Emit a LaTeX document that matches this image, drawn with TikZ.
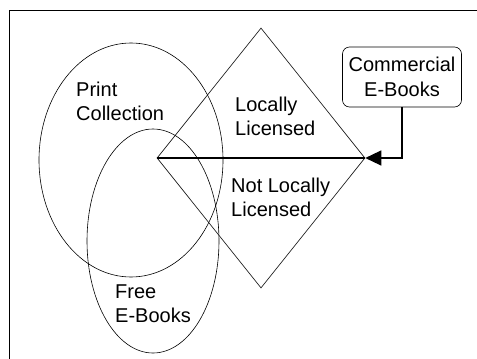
\documentclass[tikz,border=0pt]{standalone}
\usepackage{fontspec}
\setmainfont{Liberation Sans}
\usetikzlibrary{shapes.geometric,arrows.meta}
\begin{document}
\begin{tikzpicture}[
        x=1pt, y=-1pt,
        set/.style={ellipse, draw, line width=0.6pt, inner sep=0pt},
        area/.style={diamond, draw, line width=0.6pt, inner sep=0pt},
        source/.style={draw, line width=0.6pt, rounded corners=7pt, minimum width=119pt, minimum height=60pt, align=center, font=\fontsize{20}{25}\selectfont},
        label/.style={anchor=west, align=left, inner sep=0pt, font=\fontsize{20}{24}\selectfont},
        feed edge/.style={draw, line width=1.3pt, -{Triangle[length=16pt,width=15pt]}},
    ]
	\useasboundingbox (0,0) rectangle (477,359);
	\clip (0,0) rectangle (477,359);
	\draw[line width=0.8pt] (9,380) -- (9,10) -- (490,10);
	\node[set, minimum width=184pt, minimum height=234pt] (print) at (131,160) {};
	\node[set, minimum width=132pt, minimum height=224pt] (free) at (153,241) {};
	\node[area, minimum width=208pt, minimum height=260pt] (lic) at (261,158) {};
	\node[source] (comm) at (402,77) {Commercial\\E-Books};
	\draw[line width=1.3pt] (lic.west) -- (lic.east);
	\draw[feed edge] (comm.south) |- (lic.east);
	\node[label] (l_print) at (76,101) {Print\\Collection};
	\node[label] (l_lic) at (235,116) {Locally\\Licensed};
	\node[label] (l_notlic) at (231,197) {Not Locally\\Licensed};
	\node[label] (l_free) at (115,304) {Free\\E-Books};
\end{tikzpicture}
\end{document}
